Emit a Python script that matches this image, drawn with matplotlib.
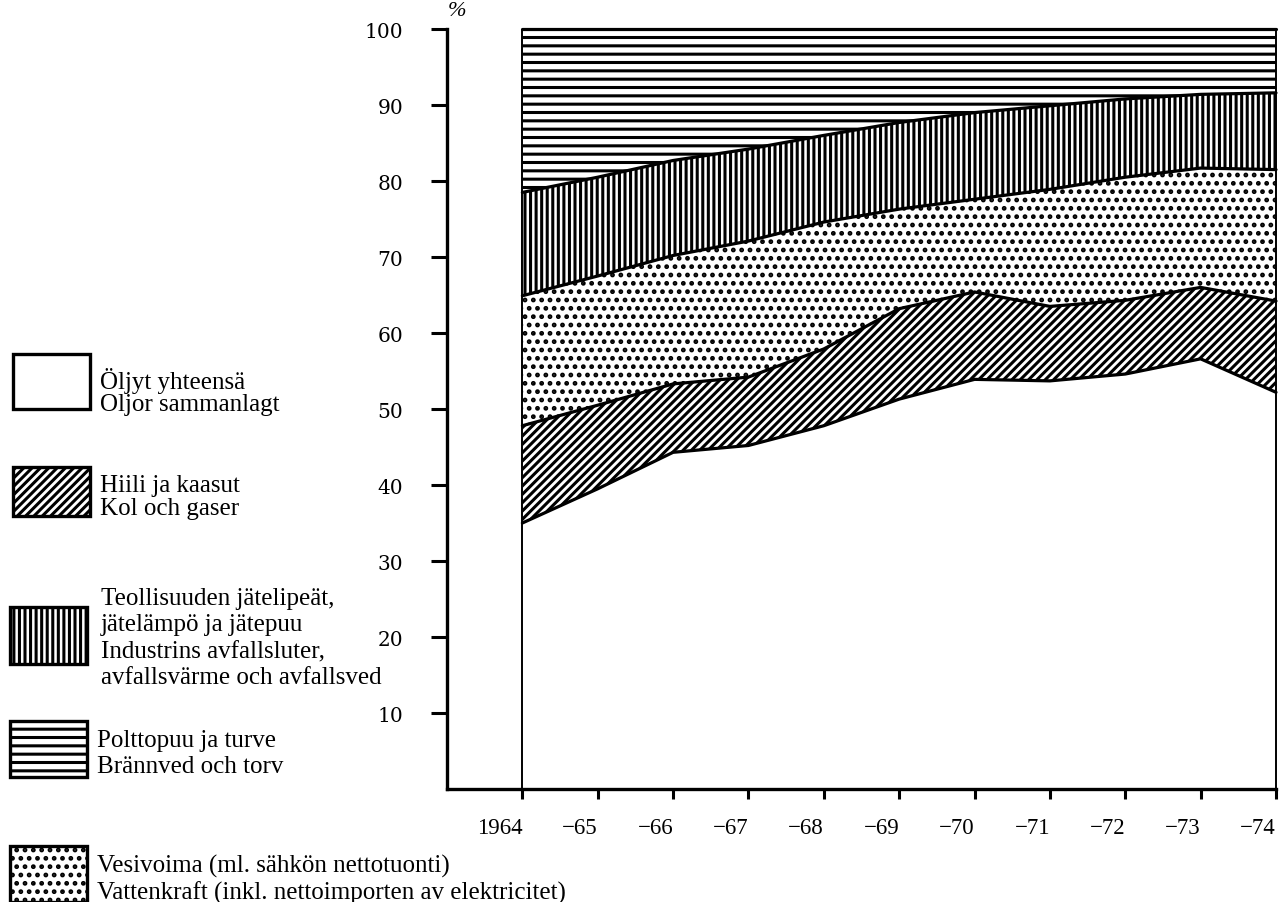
import numpy as np
import matplotlib
matplotlib.use("Agg")
import matplotlib.pyplot as plt
from matplotlib.patches import Rectangle

# Shares of total energy consumption by source, per cent
years = [1964, 1965, 1966, 1967, 1968, 1969, 1970, 1971, 1972, 1973, 1974]
year_labels = ["1964", "\u221265", "\u221266", "\u221267", "\u221268", "\u221269",
               "\u221270", "\u221271", "\u221272", "\u221273", "\u221274"]
oils = [35.0, 39.5, 44.3, 45.2, 47.8, 51.3, 53.9, 53.7, 54.6, 56.6, 52.2]
coal_gas = [12.8, 11.0, 9.0, 9.0, 10.1, 11.9, 11.5, 9.8, 9.7, 9.4, 12.0]
hydro = [17.1, 17.0, 16.9, 17.9, 16.7, 13.1, 12.2, 15.4, 16.2, 15.7, 17.3]
industrial_waste = [13.6, 13.0, 12.5, 12.1, 11.4, 11.4, 11.4, 11.0, 10.3, 9.7, 10.1]
firewood_peat = [21.5, 19.5, 17.3, 15.8, 14.0, 12.3, 11.0, 10.1, 9.2, 8.6, 8.4]

y_ticks = [10, 20, 30, 40, 50, 60, 70, 80, 90, 100]
y_tick_labels = [str(v) for v in y_ticks]

legend_oils = ["Öljyt yhteensä", "Oljor sammanlagt"]
legend_coal = ["Hiili ja kaasut", "Kol och gaser"]
legend_waste = ["Teollisuuden jätelipeät,", "jätelämpö ja jätepuu",
                "Industrins avfallsluter,", "avfallsvärme och avfallsved"]
legend_wood = ["Polttopuu ja turve", "Brännved och torv"]
legend_hydro = ["Vesivoima (ml. sähkön nettotuonti)",
                "Vattenkraft (inkl. nettoimporten av elektricitet)"]

# hatch patterns per source
HATCH_OILS, HATCH_COAL, HATCH_HYDRO, HATCH_WASTE, HATCH_WOOD = "", "////", "..", "|||", "--"

W, H = 1281, 903
SERIF = ["Liberation Serif", "DejaVu Serif"]
plt.rcParams["hatch.linewidth"] = 2.2

fig = plt.figure(figsize=(W / 100, H / 100), dpi=100)
fig.patch.set_facecolor("white")


def fx(px):
    return px / W


def fy(py):
    return 1 - py / H


ax = fig.add_axes([fx(447), fy(790), fx(1276 - 447), (790 - 30) / H])
ax.set_xlim(1963, 1974)
ax.set_ylim(0, 100)

# stacked layers, bottom to top
layers = [(oils, HATCH_OILS), (coal_gas, HATCH_COAL), (hydro, HATCH_HYDRO),
          (industrial_waste, HATCH_WASTE), (firewood_peat, HATCH_WOOD)]
x = np.array(years, dtype=float)
base = np.zeros(len(years))
tops = []
for values, hatch in layers:
    top = base + np.array(values)
    ax.fill_between(x, base, top, facecolor="white", edgecolor="black",
                    hatch=hatch, linewidth=0, clip_on=False, zorder=1)
    tops.append(top)
    base = top

# boundary lines between layers
for top in tops:
    ax.plot(x, top, color="black", lw=2.3, solid_joinstyle="round",
            solid_capstyle="round", clip_on=False, zorder=3)
ax.vlines([x[0], x[-1]], 0, tops[-1][0], color="black", lw=1.4, zorder=3,
          clip_on=False)

for side in ("top", "right"):
    ax.spines[side].set_visible(False)
for side in ("left", "bottom"):
    ax.spines[side].set_linewidth(2.4)
    ax.spines[side].set_zorder(4)

ax.set_xticks(years)
ax.set_xticklabels(year_labels, fontfamily=SERIF, fontsize=16.5, ha="right")
ax.tick_params(axis="x", direction="out", length=7, width=2.2, pad=13)
ax.set_yticks(y_ticks)
ax.set_yticklabels(y_tick_labels, fontfamily="DejaVu Serif", fontsize=14.5)
ax.tick_params(axis="y", direction="out", length=11.5, width=2.2, pad=20)

fig.text(fx(457), fy(12), "%", fontfamily=SERIF, fontstyle="italic",
         fontsize=16, ha="center", va="center")


def legend_entry(box, hatch, lines, text_x, line_y):
    x0, y0, x1, y1 = box
    fig.add_artist(Rectangle((fx(x0), fy(y1)), fx(x1 - x0), (y1 - y0) / H,
                             transform=fig.transFigure, facecolor="white",
                             edgecolor="black", lw=2.4, hatch=hatch))
    for text, yy in zip(lines, line_y):
        fig.text(fx(text_x), fy(yy), text, fontfamily=SERIF, fontsize=18,
                 ha="left", va="center_baseline")


legend_entry((13, 355, 90, 410), HATCH_OILS, legend_oils, 100, [379, 403])
legend_entry((13, 468, 90, 517), HATCH_COAL, legend_coal, 100, [484, 507])
legend_entry((10, 608, 87, 665), HATCH_WASTE, legend_waste, 101, [596, 622, 650, 676])
legend_entry((10, 722, 87, 778), HATCH_WOOD, legend_wood, 97, [738, 765])
legend_entry((10, 847, 87, 903), HATCH_HYDRO, legend_hydro, 97, [864, 891])

fig.savefig("out.png", dpi=100, facecolor="white")
